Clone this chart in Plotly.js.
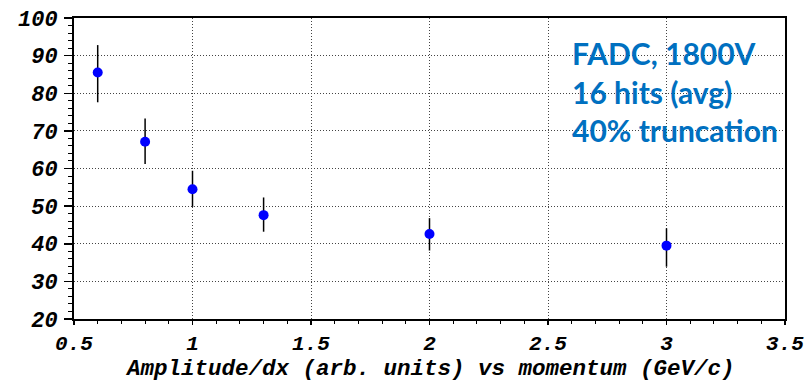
<!DOCTYPE html>
<html><head><meta charset="utf-8">
<script src="https://cdn.plot.ly/plotly-3.0.1.min.js"></script>
<style>html,body{margin:0;padding:0;background:#fff}#chart{width:808px;height:381px}</style>
</head><body><div id="chart"></div>
<script>
const momentum = [0.6, 0.8, 1.0, 1.3, 2.0, 3.0];
const amplitude = [85.5, 67.1, 54.5, 47.6, 42.6, 39.5];
const errUp = [7.3, 6.2, 4.9, 4.7, 4.2, 4.6];
const errDown = [7.9, 5.9, 4.7, 4.4, 4.4, 5.6];
const xTicks = [0.5, 1, 1.5, 2, 2.5, 3, 3.5];
const xTickText = ['0.5', '1', '1.5', '2', '2.5', '3', '3.5'];
const yTicks = [20, 30, 40, 50, 60, 70, 80, 90, 100];
const xTitle = 'Amplitude/dx (arb. units) vs momentum (GeV/c)';
const noteLines = ['FADC, 1800V', '16 hits (avg)', '40% truncation'];
const noteY = [90.7, 80.4, 70.3];

const monoFamily = 'Liberation Mono, Courier New, monospace';
const yTickFont = {family: monoFamily, size: 22, color: '#000', weight: 700, style: 'italic'};
const xTickFont = {family: monoFamily, size: 21, color: '#000', weight: 700, style: 'italic'};

const trace = {
  x: momentum, y: amplitude, type: 'scatter', mode: 'markers',
  marker: {color: '#0000ff', size: 10, symbol: 'circle'},
  error_y: {type: 'data', symmetric: false, array: errUp, arrayminus: errDown, color: '#000', thickness: 1.5, width: 0},
  showlegend: false
};

const annotations = noteLines.map((t, i) => ({
  text: t, x: 2.593, y: noteY[i], xref: 'x', yref: 'y', xanchor: 'left', yanchor: 'middle',
  showarrow: false, font: {family: 'Lato, Open Sans, sans-serif', size: 30, color: '#0070c0', weight: 700}
}));
annotations.push({
  text: xTitle, x: 0.5, y: -0.166, xref: 'paper', yref: 'paper', xanchor: 'center', yanchor: 'middle',
  showarrow: false, font: {family: monoFamily, size: 22.5, color: '#000', weight: 700, style: 'italic'}
});

const layout = {
  width: 808, height: 381,
  margin: {l: 74, r: 23, t: 18, b: 62},
  paper_bgcolor: '#fff', plot_bgcolor: '#fff',
  xaxis: {
    range: [0.5, 3.5], tickvals: xTicks, ticktext: xTickText,
    showline: true, linecolor: '#000', linewidth: 2, mirror: true,
    ticks: 'outside', ticklen: 4, tickwidth: 1.5, tickcolor: '#000',
    minor: {dtick: 0.1, ticks: 'outside', ticklen: 3, tickwidth: 1, tickcolor: '#000', showgrid: false},
    showgrid: true, gridcolor: '#444', griddash: '1px,2px', gridwidth: 1,
    zeroline: false, tickfont: xTickFont, automargin: false
  },
  yaxis: {
    range: [20, 100], tickvals: yTicks,
    showline: true, linecolor: '#000', linewidth: 2, mirror: true,
    ticks: 'outside', ticklen: 8, tickwidth: 1.5, tickcolor: '#000',
    ticklabelstandoff: 2,
    minor: {dtick: 2, ticks: 'outside', ticklen: 4, tickwidth: 1, tickcolor: '#000', showgrid: false},
    showgrid: true, gridcolor: '#444', griddash: '1px,2px', gridwidth: 1,
    zeroline: false, tickfont: yTickFont, automargin: false
  },
  annotations: annotations
};

Plotly.newPlot('chart', [trace], layout, {displayModeBar: false, staticPlot: true});
</script></body></html>
